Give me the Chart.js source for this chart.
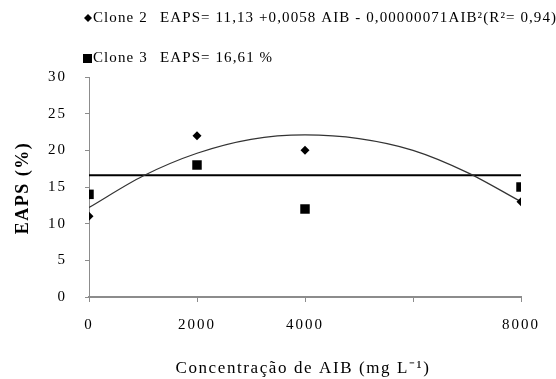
<!DOCTYPE html>
<html>
<head>
<meta charset="utf-8">
<script src="https://cdn.jsdelivr.net/npm/chart.js@4"></script>
<style>
  html, body { margin: 0; padding: 0; background: #fff; }
  #wrap { width: 556px; height: 379px; position: relative; }
</style>
</head>
<body>
<div id="wrap"><canvas id="eapsChart" width="556" height="379"></canvas></div>
<script>
// AIB doses (mg L-1) and rooting (EAPS %) per clone
let doses = [0, 2000, 4000, 8000];
let clone2 = [11, 22, 20, 13];
let clone3 = [14, 18, 12, 15];

// quadratic trend for clone 2
let trendX = [0, 1000, 2000, 3000, 4000, 5000, 6000, 7000, 8000];
let trendY = [12.2, 16.5, 19.6, 21.5, 22.1, 21.6, 20.0, 17.0, 13.0];

// clone 3 mean line
let clone3Mean = 16.61;

let xTicks = [0, 2000, 4000, 6000, 8000];
let xTickLabels = ['0', '2000', '4000', '', '8000'];

let legendRows = [
	{ marker: 'diamond', name: 'Clone 2', eq: 'EAPS= 11,13 +0,0058 AIB - 0,00000071AIB\u00b2(R\u00b2= 0,94)' },
	{ marker: 'square', name: 'Clone 3', eq: 'EAPS= 16,61 %' }
];

const serif = "'Liberation Serif', 'Times New Roman', serif";
const axisGray = '#8c8c8c';

// wide letter spacing for the tick labels
const spacingPlugin = {
	id: 'spacing',
	beforeDraw(chart) { chart.ctx.letterSpacing = '2px'; },
	afterDatasetsDraw(chart) { chart.ctx.letterSpacing = '0px'; }
};

// legend rows and axis titles
const textPlugin = {
	id: 'texts',
	afterDraw(chart) {
		const ctx = chart.ctx;
		ctx.save();
		ctx.fillStyle = '#000';
		ctx.font = '15px ' + serif;
		ctx.letterSpacing = '1.1px';
		ctx.textBaseline = 'middle';
		legendRows.forEach((row, i) => {
			let y = 18 + i * 40;
			if (row.marker === 'diamond') {
				ctx.beginPath();
				ctx.moveTo(88, y - 4);
				ctx.lineTo(92, y);
				ctx.lineTo(88, y + 4);
				ctx.lineTo(84, y);
				ctx.closePath();
				ctx.fill();
			} else {
				ctx.fillRect(83, y - 4, 9, 9);
			}
			ctx.textAlign = 'left';
			ctx.fillText(row.name, 93, y);
			ctx.fillText(row.eq, 160, y);
		});

		// x axis title
		ctx.font = '17px ' + serif;
		ctx.letterSpacing = '1.6px';
		ctx.textAlign = 'center';
		ctx.fillText('Concentra\u00e7\u00e3o de AIB (mg L\u207b\u00b9)', 303, 369);

		// y axis title
		ctx.translate(23, 188);
		ctx.rotate(-Math.PI / 2);
		ctx.font = 'bold 18px ' + serif;
		ctx.letterSpacing = '1.5px';
		ctx.fillText('EAPS (%)', 0, 0);
		ctx.restore();
	}
};

const ctx = document.getElementById('eapsChart').getContext('2d');
const chart = new Chart(ctx, {
	type: 'scatter',
	data: {
		datasets: [
			{
				label: 'Clone 2',
				data: doses.map((d, i) => ({ x: d, y: clone2[i] })),
				pointStyle: 'rectRot',
				pointRadius: 4.5,
				backgroundColor: '#000',
				borderColor: '#000',
				borderWidth: 0,
				order: 0
			},
			{
				label: 'Clone 3',
				data: doses.map((d, i) => ({ x: d, y: clone3[i] })),
				pointStyle: 'rect',
				pointRadius: 6.7,
				backgroundColor: '#000',
				borderColor: '#000',
				borderWidth: 0,
				order: 0
			},
			{
				label: 'Trend clone 2',
				type: 'line',
				data: trendX.map((x, i) => ({ x: x, y: trendY[i] })),
				borderColor: '#333',
				borderWidth: 1.2,
				pointRadius: 0,
				tension: 0.4,
				cubicInterpolationMode: 'monotone',
				fill: false,
				order: 1
			},
			{
				label: 'Mean clone 3',
				type: 'line',
				data: [{ x: 0, y: clone3Mean }, { x: 8000, y: clone3Mean }],
				borderColor: '#000',
				borderWidth: 2,
				pointRadius: 0,
				fill: false,
				order: 1
			}
		]
	},
	options: {
		responsive: false,
		animation: false,
		layout: { padding: { left: 0, top: 77, right: 35, bottom: 0 } },
		plugins: {
			legend: { display: false },
			tooltip: { enabled: false }
		},
		scales: {
			x: {
				type: 'linear',
				min: 0,
				max: 8000,
				afterBuildTicks: (scale) => { scale.ticks = xTicks.map(v => ({ value: v })); },
				afterFit: (scale) => { scale.height = 82; },
				border: { color: axisGray, width: 2 },
				grid: { drawOnChartArea: false, color: axisGray, tickLength: 5, lineWidth: 1 },
				ticks: {
					color: '#000',
					font: { family: serif, size: 15 },
					padding: 14,
					maxRotation: 0,
					callback: (value) => xTickLabels[xTicks.indexOf(value)]
				}
			},
			y: {
				min: 0,
				max: 30,
				afterFit: (scale) => { scale.width = 89; },
				border: { color: axisGray, width: 1 },
				grid: { drawOnChartArea: false, color: axisGray, tickLength: 4 },
				ticks: {
					stepSize: 5,
					color: '#000',
					font: { family: serif, size: 15 },
					padding: 18
				}
			}
		}
	},
	plugins: [spacingPlugin, textPlugin]
});
</script>
</body>
</html>
